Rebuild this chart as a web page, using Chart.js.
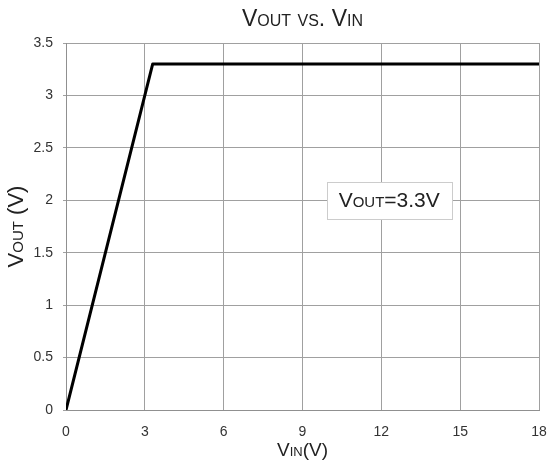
<!DOCTYPE html>
<html>
<head>
<meta charset="utf-8">
<script src="https://cdn.jsdelivr.net/npm/chart.js@4"></script>
<style>
  html, body { margin: 0; padding: 0; background: #fff; }
  #wrap { width: 548px; height: 468px; }
</style>
</head>
<body>
<div id="wrap"><canvas id="chart"></canvas></div>
<script>
// data
const vin = [0, 3.3, 18];
const vout = [0, 3.3, 3.3];
const xTicks = [0, 3, 6, 9, 12, 15, 18];
const yTicks = [0, 0.5, 1, 1.5, 2, 2.5, 3, 3.5];
const titleText = 'Vout vs. Vin';
const noteText = 'Vout=3.3V';
const notePos = [12.3, 2];

const points = vin.map((v, i) => ({ x: v, y: vout[i] }));

const family = '"Liberation Sans", Arial, sans-serif';
// small-caps goes in through the weight slot of the font string
const capsFont = (size) => ({ family: family, size: size, weight: 'small-caps' });

// title centred over the plot area, plus the text box in the middle
const notePlugin = {
    id: 'note',
    afterDatasetsDraw(chart) {
        const ctx = chart.ctx;
        const area = chart.chartArea;
        ctx.save();
        ctx.fillStyle = '#222';
        ctx.textAlign = 'center';
        ctx.textBaseline = 'middle';
        ctx.font = 'small-caps 23px ' + family;
        ctx.fillText(titleText, (area.left + area.right) / 2, 20);

        const cx = chart.scales.x.getPixelForValue(notePos[0]);
        const cy = chart.scales.y.getPixelForValue(notePos[1]);
        ctx.font = 'small-caps 21px ' + family;
        const w = Math.round(ctx.measureText(noteText).width + 24);
        const h = 37;
        const x0 = Math.round(cx - w / 2), y0 = Math.round(cy - h / 2);
        ctx.fillStyle = '#fff';
        ctx.fillRect(x0, y0, w, h);
        ctx.strokeStyle = '#cccccc';
        ctx.lineWidth = 1;
        ctx.strokeRect(x0 + 0.5, y0 + 0.5, w, h);
        ctx.fillStyle = '#222';
        ctx.fillText(noteText, cx, cy + 1);
        ctx.restore();
    }
};

new Chart(document.getElementById('chart').getContext('2d'), {
    type: 'line',
    data: {
        datasets: [{
            data: points,
            borderColor: '#000',
            borderWidth: 3,
            pointRadius: 0,
            tension: 0,
            borderJoinStyle: 'round',
            fill: false
        }]
    },
    options: {
        responsive: true,
        maintainAspectRatio: false,
        animation: false,
        layout: { padding: { top: 43, right: 9, bottom: 6, left: 4 } },
        plugins: {
            legend: { display: false },
            tooltip: { enabled: false },
            title: { display: false }
        },
        scales: {
            x: {
                type: 'linear',
                min: 0,
                max: 18,
                afterBuildTicks: (axis) => { axis.ticks = xTicks.map(v => ({ value: v })); },
                ticks: { color: '#333', font: { family: family, size: 14 }, maxRotation: 0, padding: 14 },
                grid: { color: '#a0a0a0', lineWidth: 1, drawTicks: false },
                border: { color: '#909090', width: 1 },
                title: { display: true, text: 'Vin(V)', color: '#222', font: capsFont(19), padding: { top: 2, bottom: 0 } },
                afterFit: (axis) => { axis.height = 52; axis.paddingLeft = 0; axis.paddingRight = 0; }
            },
            y: {
                type: 'linear',
                min: 0,
                max: 3.5,
                afterBuildTicks: (axis) => { axis.ticks = yTicks.map(v => ({ value: v })); },
                ticks: { color: '#333', font: { family: family, size: 14 }, padding: 10, callback: (v) => String(v) },
                grid: { color: '#a0a0a0', lineWidth: 1, tickLength: 3 },
                border: { color: '#909090', width: 1 },
                title: { display: true, text: 'Vout (V)', color: '#222', font: capsFont(22), padding: 0 },
                afterFit: (axis) => { axis.width = 62; axis.paddingTop = 0; axis.paddingBottom = 0; }
            }
        }
    },
    plugins: [notePlugin]
});
</script>
</body>
</html>
